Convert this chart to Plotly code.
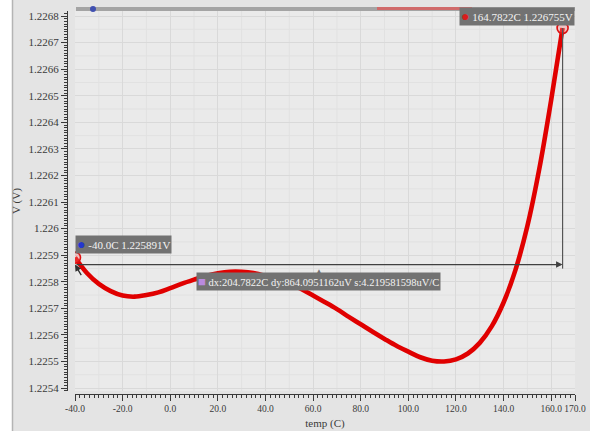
import numpy as np
import plotly.graph_objects as go

# ---------------- data ----------------
temp_C = [-40, -35, -30, -25, -20, -15, -10, -5, 0, 5, 10, 15, 20, 25, 30, 35, 40, 45,
          50, 55, 60, 65, 70, 75, 80, 85, 90, 95, 100, 105, 110, 115, 120, 125, 130,
          135, 140, 145, 150, 155, 160, 164.7822]
vref_V = [1.225891, 1.225833, 1.225792, 1.225765, 1.225748, 1.225744, 1.225750, 1.225760,
          1.225776, 1.225793, 1.225808, 1.225822, 1.225832, 1.225838, 1.225838, 1.225833,
          1.225822, 1.225808, 1.225793, 1.225773, 1.225748, 1.225723, 1.225697, 1.225668,
          1.225640, 1.225612, 1.225585, 1.225559, 1.225537, 1.225516, 1.225503, 1.225500,
          1.225508, 1.225530, 1.225570, 1.225632, 1.225722, 1.225845, 1.226010, 1.226225,
          1.226485, 1.226755]

marker_temp = [-40.0, 164.7822]
marker_volt = [1.225891, 1.226755]
marker_labels = ["-40.0C 1.225891V", "164.7822C 1.226755V"]
delta_label = "dx:204.7822C dy:864.0951162uV s:4.219581598uV/C"

x_tick_vals = [-40, -20, 0, 20, 40, 60, 80, 100, 120, 140, 160, 170]
x_tick_text = ["-40.0", "-20.0", "0.0", "20.0", "40.0", "60.0", "80.0", "100.0",
               "120.0", "140.0", "160.0", "170.0"]
y_tick_vals = [1.2268, 1.2267, 1.2266, 1.2265, 1.2264, 1.2263, 1.2262, 1.2261, 1.2260,
               1.2259, 1.2258, 1.2257, 1.2256, 1.2255, 1.2254]
y_tick_text = ["1.2268", "1.2267", "1.2266", "1.2265", "1.2264", "1.2263", "1.2262",
               "1.2261", "1.226", "1.2259", "1.2258", "1.2257", "1.2256", "1.2255", "1.2254"]
x_title = "temp (C)"
y_title = "V (V)"

# ---------------- geometry / style ----------------
W, H = 590, 431
PL, PR, PT, PB = 67, 575, 11, 394      # plot area (axes lines) in px
DATA_LEFT, DATA_BOTTOM = 75, 391
X_RANGE = [-40, 170]
Y_RANGE = [1.225389, 1.226819]
PW, PH = PR - PL, PB - PT
px_per_v = (DATA_BOTTOM - PT) / (Y_RANGE[1] - Y_RANGE[0])

def px_x(px):
    return (px - PL) / PW

def px_y(py):
    return (PB - py) / PH

FONT = "Liberation Serif"
AX_COL = "#3a3a3a"
PANEL = "#e4e4e4"
PLOT_BG = "#eaeaea"
GRID = "#d9d9d9"
GRID2 = "#e1e1e1"
RED = "#e00000"
LABEL_BG = "#727272"

line_v = marker_volt[0] - 7 / px_per_v
vert_bottom = line_v - 4 / px_per_v
mid_t = (marker_temp[0] + marker_temp[1]) / 2

fig = go.Figure()
fig.add_trace(go.Scatter(
    x=temp_C, y=vref_V, mode="lines",
    line=dict(color=RED, width=4.6, shape="spline", smoothing=1.0),
    hoverinfo="skip", showlegend=False))
fig.add_trace(go.Scatter(
    x=marker_temp, y=marker_volt, mode="markers",
    marker=dict(symbol="circle", size=11, color="rgba(255,120,120,0.35)",
                line=dict(color="#e01010", width=1.6)),
    hoverinfo="skip", showlegend=False))

shapes = []
# white left strip + border
shapes.append(dict(type="rect", xref="paper", yref="paper", x0=px_x(0), x1=px_x(12),
                   y0=px_y(H), y1=px_y(0), fillcolor="white", line_width=0, layer="below"))
shapes.append(dict(type="line", xref="paper", yref="paper", x0=px_x(12.5), x1=px_x(12.5),
                   y0=px_y(H), y1=px_y(0), line=dict(color="#b4b4b4", width=1.5)))
# top marker bar
shapes.append(dict(type="rect", xref="paper", yref="paper", x0=px_x(76), x1=px_x(575),
                   y0=px_y(11), y1=px_y(7), fillcolor="#a4a4a4", line_width=0))
shapes.append(dict(type="rect", xref="paper", yref="paper", x0=px_x(377), x1=px_x(472),
                   y0=px_y(10), y1=px_y(7), fillcolor="#d06a6a", line_width=0))
shapes.append(dict(type="circle", xref="paper", yref="paper", x0=px_x(90), x1=px_x(96),
                   y0=px_y(12), y1=px_y(6), fillcolor="#4050b0", line_width=0))
# faint intermediate grid
for t in np.arange(-30, 170, 20):
    shapes.append(dict(type="line", xref="x", yref="paper", x0=t, x1=t,
                       y0=px_y(DATA_BOTTOM), y1=1, line=dict(color=GRID2, width=1),
                       layer="below"))
for v in np.arange(y_tick_vals[-1] + 0.00005, y_tick_vals[0], 0.0001):
    shapes.append(dict(type="line", xref="paper", yref="y", x0=px_x(DATA_LEFT), x1=1,
                       y0=v, y1=v, line=dict(color=GRID2, width=1), layer="below"))
# vertical delta line
shapes.append(dict(type="line", xref="x", yref="y", x0=marker_temp[1], x1=marker_temp[1],
                   y0=marker_volt[1], y1=vert_bottom, line=dict(color="#555555", width=1.2)))

annotations = []
# horizontal delta arrow
annotations.append(dict(x=marker_temp[1], y=line_v, ax=marker_temp[0], ay=line_v,
                        xref="x", yref="y", axref="x", ayref="y", text="",
                        showarrow=True, arrowhead=2, arrowside="end", arrowsize=1,
                        arrowwidth=1.3, arrowcolor="#404040"))
annotations.append(dict(x=marker_temp[0], y=line_v, ax=marker_temp[0] + 3, ay=line_v - 12 / px_per_v,
                        xref="x", yref="y", axref="x", ayref="y", text="",
                        showarrow=True, arrowhead=2, arrowsize=1,
                        arrowwidth=1.3, arrowcolor="#303030"))
# marker labels
annotations.append(dict(
    x=marker_temp[0], y=marker_volt[0], xref="x", yref="y",
    text="<span style='color:#2436d0;font-size:14px'>●</span> " + marker_labels[0],
    showarrow=False, xanchor="left", yanchor="bottom", xshift=0, yshift=4,
    bgcolor=LABEL_BG, borderpad=1, font=dict(family=FONT, size=11, color="#f2f2f2")))
annotations.append(dict(
    x=marker_temp[1], y=marker_volt[1], xref="x", yref="y",
    text="<span style='color:#d81c1c;font-size:14px'>●</span> " + marker_labels[1],
    showarrow=False, xanchor="right", yanchor="bottom", xshift=12, yshift=2,
    bgcolor=LABEL_BG, borderpad=1, font=dict(family=FONT, size=11, color="#f2f2f2")))
# delta label + pointer
annotations.append(dict(
    x=mid_t, y=line_v, xref="x", yref="y", text="▲", showarrow=False,
    yshift=-6, font=dict(size=8, color=LABEL_BG)))
annotations.append(dict(
    x=mid_t, y=line_v, xref="x", yref="y",
    text="<span style='color:#b98ae0;font-size:13px'>■</span> " + delta_label,
    showarrow=False, xanchor="center", yanchor="middle", yshift=-17,
    bgcolor=LABEL_BG, borderpad=1, font=dict(family=FONT, size=10.5, color="#f2f2f2")))

yfont = dict(family=FONT, size=11, color=AX_COL)
xfont = dict(family=FONT, size=9.5, color=AX_COL)
fig.update_layout(
    width=W, height=H,
    margin=dict(l=PL, r=W - PR, t=PT, b=H - PB, autoexpand=False),
    paper_bgcolor=PANEL, plot_bgcolor=PLOT_BG,
    showlegend=False,
    shapes=shapes, annotations=annotations,
    xaxis=dict(
        domain=[px_x(DATA_LEFT), 1], range=X_RANGE, anchor="free", position=0,
        automargin=False, tickangle=0,
        tickmode="array", tickvals=x_tick_vals, ticktext=x_tick_text,
        ticks="outside", ticklen=6, tickwidth=1, tickcolor=AX_COL,
        showline=True, linecolor=AX_COL, linewidth=1,
        showgrid=True, gridcolor=GRID, gridwidth=1, zeroline=False,
        minor=dict(tickmode="linear", tick0=-40, dtick=2, ticks="outside", ticklen=3,
                   tickcolor=AX_COL, showgrid=False),
        tickfont=xfont,
        title=dict(text=x_title, font=yfont, standoff=5)),
    yaxis=dict(
        domain=[px_y(DATA_BOTTOM), 1], range=Y_RANGE, anchor="free", position=0,
        automargin=False,
        tickmode="array", tickvals=y_tick_vals, ticktext=y_tick_text,
        ticks="outside", ticklen=6, tickwidth=1, tickcolor=AX_COL,
        showline=True, linecolor=AX_COL, linewidth=1,
        showgrid=True, gridcolor=GRID, gridwidth=1, zeroline=False,
        minor=dict(tickmode="linear", tick0=1.2254, dtick=0.00001, ticks="outside", ticklen=3,
                   tickcolor=AX_COL, showgrid=False),
        tickfont=yfont,
        title=dict(text=y_title, font=yfont, standoff=4)),
)

fig.write_html(
    "out.html",
    config={"displayModeBar": False},
    post_script="document.body.style.margin='0';document.body.style.overflow='hidden';",
)
